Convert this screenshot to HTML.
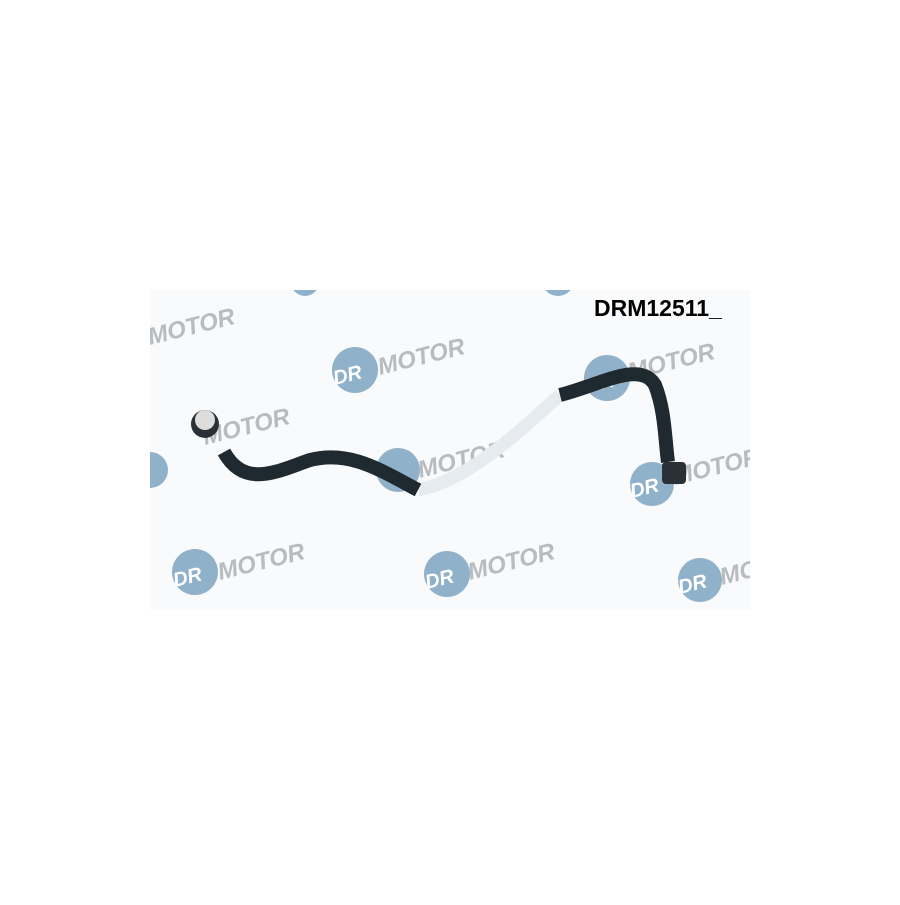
<!DOCTYPE html>
<html><head><style>body{margin:0;background:#fff}</style></head><body>
<svg width="900" height="900" xmlns="http://www.w3.org/2000/svg" font-family="Liberation Sans, sans-serif">
<defs><clipPath id="c"><rect x="150" y="290" width="600" height="320"/></clipPath></defs>
<rect x="150" y="290" width="600" height="320" fill="#f9fafc"/>
<g clip-path="url(#c)">
<g fill="#8fb1c9">
<circle cx="355" cy="370" r="23"/><circle cx="607" cy="378" r="23"/><circle cx="398" cy="470" r="22"/>
<circle cx="652" cy="484" r="22"/><circle cx="195" cy="572" r="23"/><circle cx="447" cy="574" r="23"/>
<circle cx="700" cy="580" r="22"/><circle cx="150" cy="470" r="18"/><circle cx="305" cy="282" r="14"/><circle cx="558" cy="280" r="16"/>
</g>
<g font-weight="bold" font-style="italic" font-size="24" fill="#b9bcbf">
<text x="150" y="345" transform="rotate(-14 150 345)">MOTOR</text>
<text x="380" y="375" transform="rotate(-14 380 375)">MOTOR</text>
<text x="630" y="380" transform="rotate(-14 630 380)">MOTOR</text>
<text x="205" y="445" transform="rotate(-14 205 445)">MOTOR</text>
<text x="420" y="478" transform="rotate(-14 420 478)">MOTOR</text>
<text x="675" y="485" transform="rotate(-14 675 485)">MOTOR</text>
<text x="220" y="580" transform="rotate(-14 220 580)">MOTOR</text>
<text x="470" y="580" transform="rotate(-14 470 580)">MOTOR</text>
<text x="722" y="585" transform="rotate(-14 722 585)">MO</text>
</g>
<g font-weight="bold" font-style="italic" font-size="20" fill="#fff">
<text x="335" y="385" transform="rotate(-14 335 385)">DR</text>
<text x="587" y="393" transform="rotate(-14 587 393)">DR</text>
<text x="632" y="498" transform="rotate(-14 632 498)">DR</text>
<text x="175" y="587" transform="rotate(-14 175 587)">DR</text>
<text x="427" y="589" transform="rotate(-14 427 589)">DR</text>
<text x="680" y="594" transform="rotate(-14 680 594)">DR</text>
</g>
</g>
<path d="M418,490 C470,480 520,430 560,395" stroke="#e6ebef" stroke-width="13" fill="none"/>
<path d="M224,452 C245,490 280,470 310,460 C350,450 380,470 418,490" stroke="#1f2a30" stroke-width="14" fill="none"/>
<path d="M560,395 C600,385 640,360 655,385 C665,410 665,440 668,462" stroke="#1f2a30" stroke-width="14" fill="none"/>
<circle cx="205" cy="424" r="14" fill="#2a3136"/><circle cx="205" cy="420" r="10" fill="#ddd"/>
<rect x="662" y="462" width="24" height="22" rx="4" fill="#2a3136"/>
<text x="594" y="316" font-size="23" font-weight="bold" fill="#000">DRM12511_</text>
</svg>
</body></html>
